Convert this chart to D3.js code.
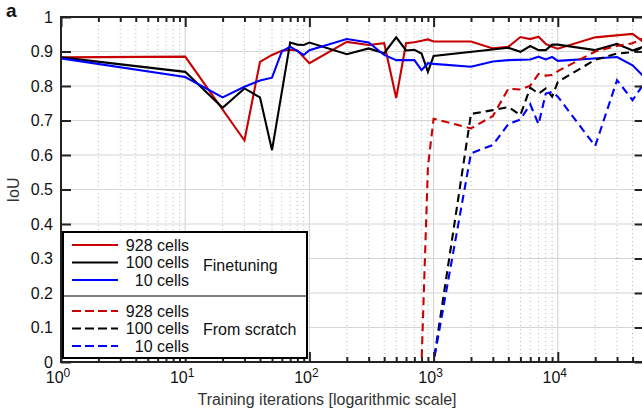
<!DOCTYPE html>
<html>
<head>
<meta charset="utf-8">
<script src="https://cdn.jsdelivr.net/npm/d3@7"></script>
<style>
  body { margin: 0; background: #fff; }
  svg { display: block; font-family: "Liberation Sans", Arial, Helvetica, sans-serif; }
</style>
</head>
<body>
<div id="graph"></div>
<script>
// finetuning runs
const ftIters = [1, 10, 20, 30, 40, 50, 60, 70, 80, 90, 100, 200, 300, 400, 500, 600, 700, 800, 900, 1000,
  2000, 3000, 4000, 5000, 6000, 7000, 8000, 9000, 10000, 20000, 30000, 40000, 50000]
const ft928 = [0.883, 0.885, null, 0.642, 0.870, 0.890, 0.902, 0.905, 0.903, null, 0.866, 0.928, 0.919, 0.924, 0.765, 0.924, 0.927, 0.931, 0.935, 0.929,
  0.929, 0.909, 0.914, 0.942, 0.936, 0.943, 0.922, 0.914, 0.908, 0.941, null, 0.951, 0.925]
const ft100 = [0.883, 0.841, 0.737, 0.793, 0.767, 0.614, null, 0.926, 0.920, 0.919, 0.926, 0.892, 0.909, 0.895, 0.941, 0.903, 0.905, 0.894, 0.841, 0.887,
  null, null, 0.911, 0.899, 0.916, 0.904, 0.904, 0.920, 0.920, 0.904, 0.922, 0.903, 0.915]
const ft10 = [0.880, 0.826, 0.767, 0.798, 0.816, 0.824, 0.900, 0.914, null, 0.890, 0.904, 0.936, 0.926, 0.890, 0.875, null, 0.875, 0.846, 0.866, 0.864,
  0.856, 0.871, 0.875, null, 0.877, 0.885, 0.877, 0.884, 0.873, null, 0.884, 0.860, 0.825]

// from scratch runs
const scIters = [100, 200, 300, 400, 500, 600, 700, 800, 900, 1000,
  2000, 3000, 4000, 5000, 6000, 7000, 8000, 9000, 10000, 20000, 30000, 40000, 50000]
const sc928 = [0, 0, 0, 0, 0, 0, 0, 0, 0.566, 0.705,
  0.677, 0.713, 0.792, 0.790, 0.801, 0.835, 0.830, 0.832, 0.843, 0.900, 0.916, 0.924, 0.940]
const sc100 = [0, 0, 0, 0, 0, 0, 0, 0, 0, 0,
  0.719, 0.730, 0.739, 0.716, 0.795, 0.778, 0.793, 0.769, 0.812, 0.876, 0.894, 0.898, 0.915]
const sc10 = [0, 0, 0, 0, 0, 0, 0, 0, 0, 0,
  0.605, 0.629, 0.690, 0.703, 0.747, 0.689, 0.778, 0.783, 0.769, 0.626, 0.817, 0.759, 0.810]

const cellLabels = ['928 cells', '100 cells', '10 cells']
const groupLabels = ['Finetuning', 'From scratch']
const colors = ['#c80000', '#000000', '#0000ff']
const yTicks = [0, 0.1, 0.2, 0.3, 0.4, 0.5, 0.6, 0.7, 0.8, 0.9, 1]
const xMajor = [1, 10, 100, 1000, 10000]

const margin = {top: 17, left: 61}
const decade = 124.2
const xMax = 50000
const width = Math.log10(xMax) * decade
const height = 345
const fontSize = 16

const svg = d3.select('#graph')
  .append('svg')
  .attr('width', 642)
  .attr('height', 414)

const g = svg.append('g')
  .attr('transform', `translate(${margin.left},${margin.top})`)

const x = d3.scaleLog().domain([1, xMax]).range([0, width])
const y = d3.scaleLinear().domain([0, 1]).range([height, 0])

// minor ticks 2..9 of each decade
const xMinor = []
for (let k = 0; k <= 4; k++) {
  for (let m = 2; m <= 9; m++) {
    const v = m * Math.pow(10, k)
    if (v <= xMax) xMinor.push(v)
  }
}

// grid
g.append('g').selectAll('line')
  .data(xMinor)
  .join('line')
  .attr('x1', d => x(d)).attr('x2', d => x(d))
  .attr('y1', 0).attr('y2', height)
  .attr('stroke', '#b5b5b5')
  .attr('stroke-width', 1)
  .attr('stroke-dasharray', '1,3')

g.append('g').selectAll('line')
  .data(xMajor)
  .join('line')
  .attr('x1', d => x(d)).attr('x2', d => x(d))
  .attr('y1', 0).attr('y2', height)
  .attr('stroke', '#cfcfcf')
  .attr('stroke-width', 1)

g.append('g').selectAll('line')
  .data(yTicks)
  .join('line')
  .attr('x1', 0).attr('x2', width)
  .attr('y1', d => y(d)).attr('y2', d => y(d))
  .attr('stroke', '#d6d6d6')
  .attr('stroke-width', 1.2)

// lines
const line = d3.line()
  .x(d => x(d[0]))
  .y(d => y(d[1]))

const series = [
  {xs: ftIters, ys: ft928, c: 0, dash: null},
  {xs: ftIters, ys: ft100, c: 1, dash: null},
  {xs: ftIters, ys: ft10, c: 2, dash: null},
  {xs: scIters, ys: sc928, c: 0, dash: '8,5'},
  {xs: scIters, ys: sc100, c: 1, dash: '8,5'},
  {xs: scIters, ys: sc10, c: 2, dash: '8,5'}
]

series.forEach(s => {
  const pts = s.xs.map((v, i) => [v, s.ys[i]]).filter(p => p[1] !== null)
  g.append('path')
    .datum(pts)
    .attr('d', line)
    .style('fill', 'none')
    .style('stroke', colors[s.c])
    .style('stroke-width', '2.1px')
    .attr('stroke-dasharray', s.dash)
})

// axes, ticks pointing inward
const axisColor = '#222'
const styleAxis = sel => {
  sel.select('.domain').remove()
  sel.selectAll('.tick line').attr('stroke', axisColor).attr('stroke-width', 2)
}

g.append('g').attr('transform', `translate(0,${height})`)
  .call(d3.axisBottom(x).tickValues(xMajor).tickSize(-10).tickFormat(''))
  .call(styleAxis)
g.append('g').attr('transform', `translate(0,${height})`)
  .call(d3.axisBottom(x).tickValues(xMinor).tickSize(-5).tickFormat(''))
  .call(styleAxis)
g.append('g')
  .call(d3.axisTop(x).tickValues(xMajor).tickSize(-10).tickFormat(''))
  .call(styleAxis)
g.append('g')
  .call(d3.axisTop(x).tickValues(xMinor).tickSize(-5).tickFormat(''))
  .call(styleAxis)

const yAxis = g.append('g')
  .call(d3.axisLeft(y).tickValues(yTicks).tickSize(-10).tickPadding(8)
    .tickFormat(d => d === 0 || d === 1 ? String(d) : d.toFixed(1)))
  .call(styleAxis)
yAxis.selectAll('text')
  .attr('font-size', fontSize)
  .attr('font-family', '"Liberation Sans", Arial, sans-serif')
  .attr('fill', '#111')

g.append('g').attr('transform', `translate(${width},0)`)
  .call(d3.axisRight(y).tickValues(yTicks).tickSize(-10).tickFormat(''))
  .call(styleAxis)

// box
g.append('rect')
  .attr('x', 0).attr('y', 0)
  .attr('width', width).attr('height', height)
  .attr('fill', 'none')
  .attr('stroke', axisColor)
  .attr('stroke-width', 2)

// x tick labels 10^k
const xl = g.append('g').selectAll('text')
  .data(xMajor)
  .join('text')
  .attr('x', d => x(d) - 3)
  .attr('y', height + 21)
  .attr('text-anchor', 'middle')
  .attr('font-size', fontSize)
  .attr('fill', '#111')
xl.append('tspan').text('10')
xl.append('tspan')
  .attr('dy', -6)
  .attr('font-size', 12)
  .text(d => Math.round(Math.log10(d)))

// axis labels
svg.append('text')
  .attr('x', 327)
  .attr('y', 405)
  .attr('text-anchor', 'middle')
  .attr('font-size', fontSize)
  .attr('fill', '#333')
  .text('Training iterations [logarithmic scale]')

svg.append('text')
  .attr('transform', 'translate(19,190) rotate(-90)')
  .attr('text-anchor', 'middle')
  .attr('font-size', fontSize)
  .attr('fill', '#333')
  .text('IoU')

svg.append('text')
  .attr('x', 6)
  .attr('y', 17)
  .attr('font-size', 19)
  .attr('font-weight', 'bold')
  .attr('fill', '#111')
  .text('a')

// legend
const lg = svg.append('g')
lg.append('rect')
  .attr('x', 63).attr('y', 232)
  .attr('width', 244).attr('height', 126)
  .attr('fill', '#fff')
  .attr('stroke', '#000')
  .attr('stroke-width', 2)
lg.append('line')
  .attr('x1', 63).attr('x2', 307)
  .attr('y1', 296).attr('y2', 296)
  .attr('stroke', '#000')
  .attr('stroke-width', 1)

const rows = []
groupLabels.forEach((grp, gi) => {
  cellLabels.forEach((lab, ci) => rows.push({lab, ci, gi, ry: 245 + gi * 66 + ci * 17.5}))
})

lg.selectAll('line.key')
  .data(rows)
  .join('line')
  .attr('class', 'key')
  .attr('x1', 72).attr('x2', 118)
  .attr('y1', d => d.ry).attr('y2', d => d.ry)
  .attr('stroke', d => colors[d.ci])
  .attr('stroke-width', 2)
  .attr('stroke-dasharray', d => d.gi ? '9,4' : null)

lg.selectAll('text.key')
  .data(rows)
  .join('text')
  .attr('class', 'key')
  .attr('x', 189)
  .attr('y', d => d.ry + 5.5)
  .attr('text-anchor', 'end')
  .attr('font-size', fontSize)
  .attr('fill', '#111')
  .text(d => d.lab)

lg.selectAll('text.grp')
  .data(groupLabels)
  .join('text')
  .attr('class', 'grp')
  .attr('x', 203)
  .attr('y', (d, i) => 271 + i * 64)
  .attr('font-size', fontSize)
  .attr('fill', '#111')
  .text(d => d)
</script>
</body>
</html>
